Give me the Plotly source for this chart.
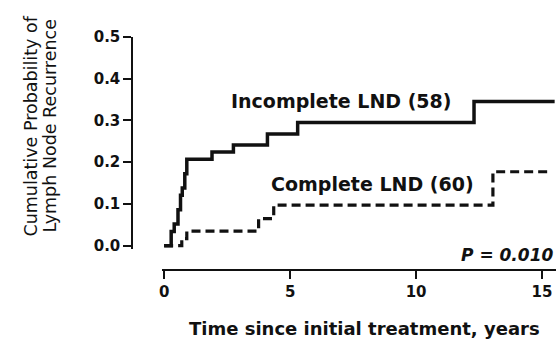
import plotly.graph_objects as go

# ---- data ----
t_incomplete = [0, 0.28, 0.4, 0.55, 0.65, 0.72, 0.82, 0.9, 1.9, 2.75, 4.1, 5.3, 12.3, 15.5]
p_incomplete = [0, 0.034, 0.052, 0.086, 0.121, 0.138, 0.172, 0.207, 0.224, 0.241, 0.267, 0.295, 0.345, 0.345]

t_complete = [0, 0.7, 0.9, 3.75, 4.35, 13.05, 15.4]
p_complete = [0, 0.017, 0.035, 0.065, 0.097, 0.177, 0.177]

x_ticks = [0, 5, 10, 15]
y_ticks = [0.0, 0.1, 0.2, 0.3, 0.4, 0.5]

label_incomplete = "Incomplete LND (58)"
label_complete = "Complete LND (60)"
p_text = "P = 0.010"
x_title = "Time since initial treatment, years"
y_title_lines = ["Cumulative Probability of", "Lymph Node Recurrence"]

# ---- layout geometry (pixels) ----
W, H = 559, 344
def px(x):
    return x / W
def py(y):
    return 1 - y / H

X0, XPX = 162.0, 25.33      # pixel of t=0, pixels per year
Y0, YPX = 247.5, 437.0      # pixel of p=0, pixels per unit probability
XMIN, XMAX = -0.1, 15.55
YMIN, YMAX = -0.008, 0.5

FONT = "DejaVu Sans"
INK = "#111111"

fig = go.Figure()
fig.add_trace(go.Scatter(x=t_incomplete, y=p_incomplete, mode="lines",
                         line=dict(color=INK, width=3.5, shape="hv"),
                         showlegend=False, hoverinfo="skip"))
fig.add_trace(go.Scatter(x=t_complete, y=p_complete, mode="lines",
                         line=dict(color=INK, width=3.2, shape="hv", dash="9px,5px"),
                         showlegend=False, hoverinfo="skip"))

tickfont = dict(family=FONT, size=15, color=INK, weight="bold")
fig.update_layout(
    width=W, height=H,
    margin=dict(l=0, r=0, t=0, b=0),
    paper_bgcolor="white", plot_bgcolor="white",
    showlegend=False,
    xaxis=dict(domain=[px(X0 + XMIN * XPX), px(X0 + XMAX * XPX)], range=[XMIN, XMAX],
               anchor="free", position=py(273), side="bottom",
               showline=True, linecolor=INK, linewidth=2,
               ticks="outside", ticklen=8, tickwidth=2, tickcolor=INK,
               tickvals=x_ticks, showgrid=False, zeroline=False,
               tickfont=tickfont),
    yaxis=dict(domain=[py(Y0 - YMIN * YPX), py(Y0 - YMAX * YPX)], range=[YMIN, YMAX],
               anchor="free", position=px(130), side="left",
               showline=True, linecolor=INK, linewidth=2,
               ticks="outside", ticklen=8, tickwidth=2, tickcolor=INK,
               tickvals=y_ticks, tickformat=".1f", showgrid=False, zeroline=False,
               tickfont=tickfont),
)

ann = []
ann.append(dict(text="<b>%s</b>" % label_incomplete, x=px(340), y=py(96),
                xref="paper", yref="paper", xanchor="center", yanchor="middle",
                showarrow=False, font=dict(family=FONT, size=19, color=INK)))
ann.append(dict(text="<b>%s</b>" % label_complete, x=px(371.5), y=py(183),
                xref="paper", yref="paper", xanchor="center", yanchor="middle",
                showarrow=False, font=dict(family=FONT, size=19, color=INK)))
ann.append(dict(text="<b><i>%s</i></b>" % p_text, x=px(555), y=py(257),
                xref="paper", yref="paper", xanchor="right", yanchor="middle",
                showarrow=False, font=dict(family=FONT, size=17, color=INK)))
ann.append(dict(text="<b>%s</b>" % x_title, x=px(363), y=py(334),
                xref="paper", yref="paper", xanchor="center", yanchor="middle",
                showarrow=False, font=dict(family=FONT, size=18, color=INK)))
for xc, line in zip([28, 47], y_title_lines):
    ann.append(dict(text=line, x=px(xc), y=py(122), textangle=-90,
                    xref="paper", yref="paper", xanchor="center", yanchor="middle",
                    showarrow=False, font=dict(family=FONT, size=17.5, color="#111111")))
fig.update_layout(annotations=ann)

fig.write_html("out.html")
